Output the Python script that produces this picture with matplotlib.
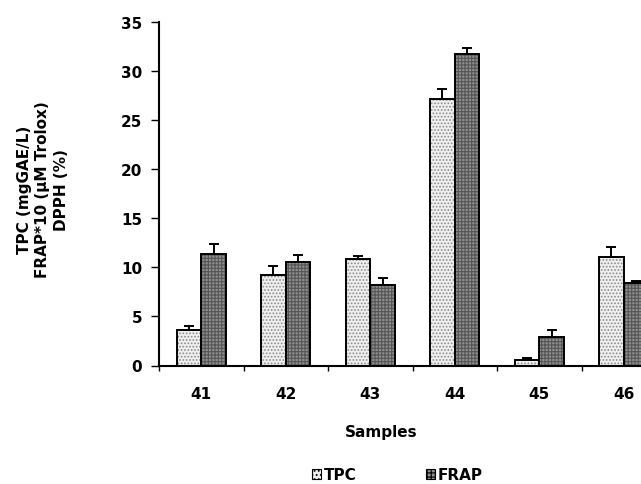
import matplotlib
matplotlib.use("Agg")
import matplotlib.pyplot as plt
import numpy as np
from matplotlib.patches import Patch

plt.rcParams['font.family'] = ['DejaVu Sans']
plt.rcParams['font.weight'] = 'bold'
plt.rcParams['hatch.linewidth'] = 0.8

samples = ["41", "42", "43", "44", "45", "46"]
tpc = [3.6, 9.2, 10.9, 27.2, 0.55, 11.05]
tpc_err = [0.4, 0.9, 0.25, 0.95, 0.2, 1.05]
frap = [11.4, 10.55, 8.2, 31.75, 2.95, 8.45]
frap_err = [1.0, 0.75, 0.7, 0.6, 0.65, 0.15]
yticks = [0, 5, 10, 15, 20, 25, 30, 35]

W, H = 641, 485
fig = plt.figure(figsize=(W / 100, H / 100), dpi=100)
ax = fig.add_axes([159 / W, 1 - 366.5 / H, (666 - 159) / W, (366.5 - 23) / H])

x = np.arange(len(samples))
bw = 0.29

# hatched fills
ax.bar(x - bw / 2, tpc, bw, color='#efefef', hatch='.....', edgecolor='#8a8a8a', linewidth=0, zorder=2)
ax.bar(x + bw / 2, frap, bw, color='#8e8e8e', hatch='+++++', edgecolor='#555555', linewidth=0, zorder=2)
# outlines
ax.bar(x - bw / 2, tpc, bw, fill=False, edgecolor='black', linewidth=1.4, zorder=3)
ax.bar(x + bw / 2, frap, bw, fill=False, edgecolor='black', linewidth=1.4, zorder=3)

ax.errorbar(x - bw / 2, tpc, yerr=[np.zeros(len(tpc)), tpc_err], fmt='none',
            ecolor='black', elinewidth=1.4, capsize=3.8, capthick=1.4, zorder=4)
ax.errorbar(x + bw / 2, frap, yerr=[np.zeros(len(frap)), frap_err], fmt='none',
            ecolor='black', elinewidth=1.4, capsize=3.8, capthick=1.4, zorder=4)

ax.set_xlim(-0.5, len(samples) - 0.5)
ax.set_ylim(0, 35)
ax.set_yticks(yticks)
ax.set_yticklabels([str(v) for v in yticks], fontsize=11, fontweight='bold')
ax.set_xticks(x)
ax.set_xticklabels(samples, fontsize=11, fontweight='bold')
ax.set_xticks(np.arange(-0.5, len(samples), 1.0), minor=True)
ax.tick_params(axis='x', which='major', length=0, pad=14.5)
ax.tick_params(axis='x', which='minor', length=3.5, width=1, direction='out')
ax.tick_params(axis='y', which='major', length=6, width=1, direction='out', pad=6)

for s in ['top', 'right']:
    ax.spines[s].set_visible(False)
for s in ['left', 'bottom']:
    ax.spines[s].set_linewidth(1.5)

fig.text(381 / W, 1 - 432 / H, "Samples", ha='center', va='center', fontsize=11, fontweight='bold')
fig.text(43 / W, 1 - 190 / H, "TPC (mgGAE/L)\nFRAP*10 (\u00b5M Trolox)\nDPPH (%)", rotation=90,
         ha='center', va='center', fontsize=11, fontweight='bold', linespacing=1.3, multialignment='center')

handles = [Patch(facecolor='#efefef', hatch='....', edgecolor='black', linewidth=0.8, label='TPC'),
           Patch(facecolor='#8e8e8e', hatch='++++', edgecolor='black', linewidth=0.8, label='FRAP')]
fig.legend(handles=handles, loc='center', bbox_to_anchor=(397.5 / W, 1 - 476 / H), ncol=2, frameon=False,
           handlelength=0.6, handleheight=0.6, handletextpad=0.2, columnspacing=4.5,
           borderpad=0.1, prop={'size': 11, 'weight': 'bold'})

fig.savefig("out.png", dpi=100)
